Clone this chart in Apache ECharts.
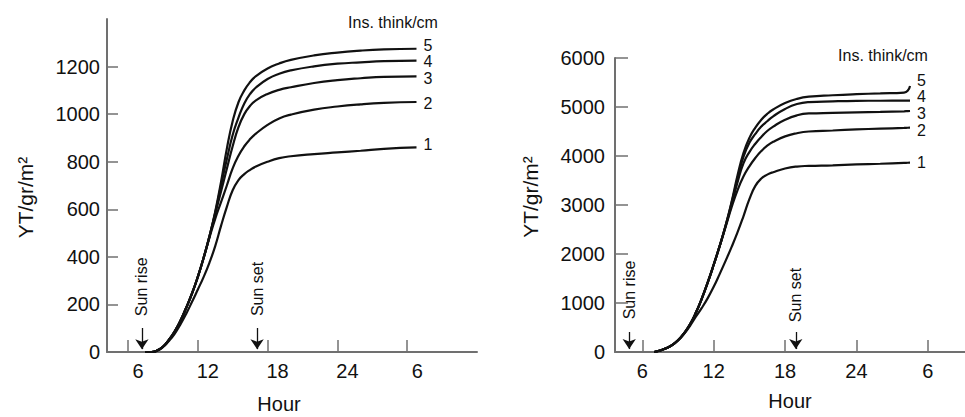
<!DOCTYPE html>
<html>
<head>
<meta charset="utf-8">
<script src="https://cdn.jsdelivr.net/npm/echarts@6/dist/echarts.min.js"></script>
<style>
  html, body { margin: 0; padding: 0; background: #ffffff; }
  #main { width: 965px; height: 417px; }
</style>
</head>
<body>
<div id="main"></div>
<script>
// Hour of day (continuing past midnight as 24+) for the left panel
const hoursLeft = [7.5, 8, 8.5, 9, 9.5, 10, 10.5, 11, 11.5, 12, 12.5, 13, 13.5, 14, 14.5, 15, 15.5, 16, 16.5, 17, 18, 19, 20, 22, 24, 26, 28, 30.8];
// Cumulative yield YT (gr/m2), one array per insulation thickness (cm)
const leftIns1 = [0, 0, 5, 20, 45, 75, 115, 160, 210, 262, 315, 375, 445, 530, 610, 680, 723, 748, 766, 780, 800, 815, 823, 832, 839, 846, 854, 860];
const leftIns2 = [0, 0, 6, 22, 50, 85, 130, 185, 245, 315, 395, 480, 560, 630, 700, 772, 825, 865, 895, 918, 955, 982, 998, 1019, 1032, 1041, 1047, 1051];
const leftIns3 = [0, 0, 6, 22, 50, 85, 130, 185, 245, 315, 395, 485, 580, 675, 770, 865, 945, 1000, 1035, 1058, 1085, 1102, 1113, 1131, 1143, 1151, 1157, 1159];
const leftIns4 = [0, 0, 6, 22, 50, 85, 130, 185, 245, 315, 395, 485, 585, 700, 810, 912, 985, 1045, 1085, 1112, 1148, 1170, 1184, 1201, 1212, 1218, 1223, 1225];
const leftIns5 = [0, 0, 6, 22, 50, 85, 130, 185, 245, 315, 395, 485, 590, 715, 855, 970, 1050, 1100, 1135, 1160, 1192, 1213, 1228, 1247, 1259, 1267, 1272, 1275];

// Right panel
const hoursRight = [7, 7.5, 8, 8.5, 9, 9.5, 10, 10.5, 11, 11.5, 12, 12.5, 13, 13.5, 14, 14.5, 15, 15.5, 16, 16.5, 17, 18, 19, 20, 22, 24, 26, 28, 28.3, 28.5];
const rightIns1 = [0, 30, 75, 140, 235, 365, 530, 720, 900, 1100, 1330, 1590, 1860, 2140, 2440, 2770, 3120, 3390, 3540, 3620, 3670, 3745, 3785, 3798, 3810, 3828, 3842, 3858, 3862, 3864];
const rightIns2 = [0, 30, 75, 140, 240, 380, 560, 800, 1090, 1420, 1780, 2160, 2550, 2950, 3300, 3580, 3790, 3960, 4100, 4210, 4290, 4400, 4465, 4500, 4520, 4542, 4558, 4572, 4576, 4578];
const rightIns3 = [0, 30, 75, 140, 240, 380, 560, 800, 1090, 1420, 1780, 2160, 2570, 3000, 3460, 3850, 4080, 4250, 4390, 4510, 4600, 4740, 4830, 4868, 4880, 4890, 4900, 4912, 4916, 4918];
const rightIns4 = [0, 30, 75, 140, 240, 380, 560, 800, 1090, 1420, 1780, 2160, 2575, 3040, 3540, 3980, 4270, 4450, 4600, 4710, 4810, 4960, 5060, 5100, 5115, 5125, 5128, 5129, 5130, 5130];
const rightIns5 = [0, 30, 75, 140, 240, 380, 560, 800, 1090, 1420, 1780, 2160, 2580, 3060, 3600, 4060, 4370, 4580, 4740, 4860, 4950, 5080, 5165, 5210, 5240, 5262, 5278, 5295, 5330, 5430];

const thicknessNames = ['1', '2', '3', '4', '5'];
const hourTicks = [6, 12, 18, 24, 30];
const yTicksLeft = [0, 200, 400, 600, 800, 1000, 1200];
const yTicksRight = [0, 1000, 2000, 3000, 4000, 5000, 6000];
const sunLabels = ['Sun rise', 'Sun set'];
const sunHoursLeft = [7.2, 17.1];
const sunHoursRight = [4.9, 18.9];

const FONT = '"Liberation Sans", Arial, Helvetica, sans-serif';
const INK = '#111111';
const AXIS = '#707070';

function pairs(hours, vals) {
  return hours.map(function (h, i) { return [h, vals[i]]; });
}

function hourLabel(v) {
  return String(v > 24 ? v - 24 : v);
}

function curves(panel, hours, sets, endOffsets) {
  return sets.map(function (vals, i) {
    return {
      type: 'line',
      name: thicknessNames[i],
      xAxisIndex: panel,
      yAxisIndex: panel,
      data: pairs(hours, vals),
      showSymbol: false,
      smooth: 0.5,
      silent: true,
      z: 3,
      lineStyle: { color: INK, width: 2.2 },
      endLabel: {
        show: true,
        formatter: thicknessNames[i],
        distance: 7,
        offset: endOffsets[i],
        color: INK,
        fontFamily: FONT,
        fontSize: 16
      }
    };
  });
}

function sunSeries(panel, sunHours, textValues, arrowTop, arrowEnd) {
  return {
    type: 'scatter',
    xAxisIndex: panel,
    yAxisIndex: panel,
    silent: true,
    symbolSize: 1,
    itemStyle: { color: 'transparent' },
    data: sunHours.map(function (h, i) {
      return { name: sunLabels[i], value: [h, textValues[i]] };
    }),
    label: {
      show: true,
      formatter: '{b}',
      position: 'inside',
      rotate: 90,
      color: INK,
      opacity: 1,
      textBorderWidth: 0,
      textBorderColor: 'transparent',
      fontFamily: FONT,
      fontSize: 16
    },
    markLine: {
      silent: true,
      animation: false,
      symbol: ['none', 'arrow'],
      symbolSize: 10,
      label: { show: false },
      lineStyle: { color: INK, width: 1.3, type: 'solid' },
      data: sunHours.map(function (h) {
        return [{ coord: [h, arrowTop] }, { coord: [h, arrowEnd] }];
      })
    }
  };
}

function xAxisFor(grid, min, max, labelShift, nameShift, nameGap) {
  return {
    type: 'value',
    gridIndex: grid,
    min: min,
    max: max,
    name: 'Hour',
    nameLocation: 'middle',
    nameGap: nameGap,
    nameTextStyle: { fontFamily: FONT, fontSize: 20, color: INK, padding: [0, nameShift, 0, 0] },
    axisLine: { show: true, lineStyle: { color: AXIS, width: 2 } },
    axisTick: { show: true, inside: true, length: 12, customValues: hourTicks, lineStyle: { color: AXIS, width: 1.5 } },
    axisLabel: {
      show: true,
      customValues: hourTicks,
      formatter: hourLabel,
      margin: 9,
      padding: [0, 0, 0, labelShift],
      color: INK,
      fontFamily: FONT,
      fontSize: 20
    },
    splitLine: { show: false }
  };
}

function yAxisFor(grid, max, interval, ticks, nameGap, namePad, tickLen, labelMargin) {
  return {
    type: 'value',
    gridIndex: grid,
    min: 0,
    max: max,
    interval: interval,
    name: 'YT/gr/m²',
    nameLocation: 'middle',
    nameRotate: 90,
    nameGap: nameGap,
    nameTextStyle: { fontFamily: FONT, fontSize: 21, color: INK, padding: namePad },
    axisLine: { show: true, lineStyle: { color: AXIS, width: 2 } },
    axisTick: { show: true, inside: true, length: tickLen, customValues: ticks, lineStyle: { color: AXIS, width: 1.5 } },
    axisLabel: {
      show: true,
      customValues: ticks,
      formatter: function (v) { return String(v); },
      margin: labelMargin,
      color: INK,
      fontFamily: FONT,
      fontSize: 20
    },
    splitLine: { show: false }
  };
}

const chart = echarts.init(document.getElementById('main'), null, { renderer: 'svg' });

const option = {
  backgroundColor: '#ffffff',
  animation: false,
  grid: [
    { left: 107, right: 488, top: 19, bottom: 65, outerBoundsMode: 'none' },
    { left: 615, right: 0, top: 58, bottom: 65, outerBoundsMode: 'none' }
  ],
  xAxis: [
    xAxisFor(0, 4.2, 36, 20, 26, 42),
    xAxisFor(1, 3.706, 33.12, 0, 0, 39)
  ],
  yAxis: [
    yAxisFor(0, 1400, 200, yTicksLeft, 71, [0, 24, 0, 0], 11, 7),
    yAxisFor(1, 6000, 1000, yTicksRight, 74, [0, 0, 0, 16], 13, 10)
  ],
  graphic: [
    { type: 'text', silent: true, style: { text: 'Ins. think/cm', x: 393, y: 22, align: 'center', verticalAlign: 'middle', fill: INK, font: '16px ' + FONT } },
    { type: 'text', silent: true, style: { text: 'Ins. think/cm', x: 883, y: 55, align: 'center', verticalAlign: 'middle', fill: INK, font: '16px ' + FONT } }
  ],
  series: [].concat(
    curves(0, hoursLeft, [leftIns1, leftIns2, leftIns3, leftIns4, leftIns5],
      [[0, -3], [0, 1], [0, 2], [0, 1], [0, -3]]),
    curves(1, hoursRight, [rightIns1, rightIns2, rightIns3, rightIns4, rightIns5],
      [[0, 0], [0, 3], [0, 2], [0, -4], [0, -5]]),
    [
      sunSeries(0, sunHoursLeft, [274, 265], 101, 12),
      sunSeries(1, sunHoursRight, [1265, 1163], 408, 60)
    ]
  )
};

chart.setOption(option);
</script>
</body>
</html>
